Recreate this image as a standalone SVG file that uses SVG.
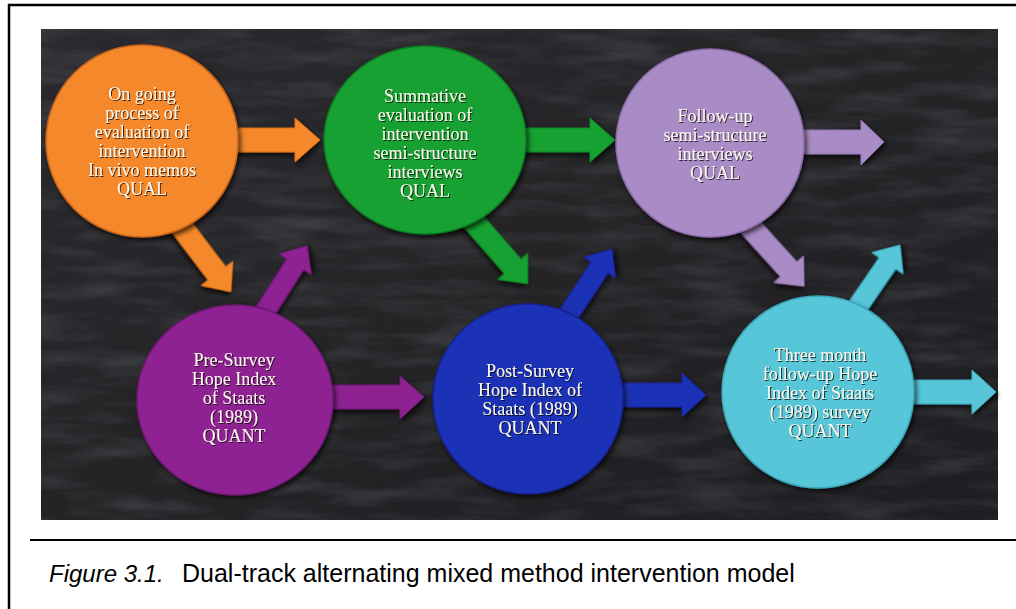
<svg xmlns="http://www.w3.org/2000/svg" width="1016" height="609" viewBox="0 0 1016 609">
<style>
.frame{stroke:#000;stroke-width:2.5;fill:none}
.node text{font-family:"Liberation Serif","Times New Roman",serif;font-size:18px;fill:#fdf8ec;text-anchor:middle}
.cap{font-family:"Liberation Sans",Arial,sans-serif;font-size:25px;fill:#000}
.arr{filter:url(#sh)}
.circ{filter:url(#sh);stroke-width:1.5}
</style>
<defs>
<linearGradient id="bg" x1="0" y1="0" x2="1" y2="1">
<stop offset="0" stop-color="#2a2a2e"/>
<stop offset="0.5" stop-color="#242427"/>
<stop offset="1" stop-color="#1e1e22"/>
</linearGradient>
<filter id="chalk" x="0" y="0" width="1" height="1">
<feTurbulence type="fractalNoise" baseFrequency="0.012 0.06" numOctaves="4" seed="7"/>
<feColorMatrix type="matrix" values="0 0 0 0 0.85  0 0 0 0 0.87  0 0 0 0 0.95  0.24 0 0 0 -0.1"/>
</filter>
<filter id="sh" x="-20%" y="-20%" width="140%" height="140%">
<feDropShadow dx="2" dy="3" stdDeviation="2.5" flood-color="#000" flood-opacity="0.7"/>
</filter>
<filter id="tsh" x="-10%" y="-10%" width="120%" height="130%">
<feDropShadow dx="1" dy="1" stdDeviation="0.5" flood-color="#000" flood-opacity="0.75"/>
</filter>
</defs>

<!-- page frame -->
<line class="frame" x1="8" y1="5" x2="1016" y2="5"/>
<line class="frame" x1="9" y1="4" x2="9" y2="609"/>

<!-- chalkboard panel -->
<rect x="41" y="29" width="957" height="491" fill="url(#bg)"/>
<rect x="41" y="29" width="957" height="491" filter="url(#chalk)"/>

<!-- connectors -->
<g id="connectors">
<path class="arr" fill="#f5882c" stroke="#d9701a" d="M220,128 L295,128 L295,118 L320,140 L295,162 L295,152 L220,152 Z"/>
<path class="arr" fill="#18a131" stroke="#0f8524" d="M515,128 L590,128 L590,118 L615,140 L590,162 L590,152 L515,152 Z"/>
<path class="arr" fill="#a98bc6" stroke="#8f72ad" d="M790,130 L861,130 L861,120 L884,142 L861,165 L861,154 L790,154 Z"/>
<path class="arr" fill="#8e2393" stroke="#731a78" d="M320,385 L400,385 L400,376 L424,397 L400,419 L400,409 L320,409 Z"/>
<path class="arr" fill="#1f31b6" stroke="#16249a" d="M610,383 L682,383 L682,373 L706,395 L682,417 L682,407 L610,407 Z"/>
<path class="arr" fill="#57c6d8" stroke="#3fadc0" d="M905,380 L972,380 L972,370 L996,392 L972,414 L972,404 L905,404 Z"/>
<path class="arr" fill="#f5882c" stroke="#d9701a" transform="translate(165,205) rotate(52.8)" d="M0,-11 L86,-11 L86,-20 L109,0 L86,20 L86,11 L0,11 Z"/>
<path class="arr" fill="#18a131" stroke="#0f8524" transform="translate(455,200) rotate(49)" d="M0,-11 L88,-11 L88,-20 L111,0 L88,20 L88,11 L0,11 Z"/>
<path class="arr" fill="#a98bc6" stroke="#8f72ad" transform="translate(735,210) rotate(47.8)" d="M0,-11 L80,-11 L80,-20 L103,0 L80,20 L80,11 L0,11 Z"/>
<path class="arr" fill="#8e2393" stroke="#731a78" transform="translate(250,335) rotate(-57.4)" d="M0,-10 L84,-10 L84,-19 L106,0 L84,19 L84,10 L0,10 Z"/>
<path class="arr" fill="#1f31b6" stroke="#16249a" transform="translate(555,335) rotate(-56.5)" d="M0,-10 L81,-10 L81,-19 L103,0 L81,19 L81,10 L0,10 Z"/>
<path class="arr" fill="#57c6d8" stroke="#3fadc0" transform="translate(845,325) rotate(-55.5)" d="M0,-10 L75,-10 L75,-19 L97,0 L75,19 L75,10 L0,10 Z"/>
</g>

<!-- nodes -->
<g id="node-ongoing" class="node">
<circle class="circ" cx="142" cy="141" r="96" fill="#f5882c" stroke="#c8631a"/>
<g filter="url(#tsh)">
<text x="142" y="100">On going</text>
<text x="142" y="119">process of</text>
<text x="142" y="138">evaluation of</text>
<text x="142" y="157">intervention</text>
<text x="142" y="176">In vivo memos</text>
<text x="142" y="195">QUAL</text>
</g>
</g>

<g id="node-summative" class="node">
<ellipse class="circ" cx="425" cy="140" rx="101" ry="94" fill="#18a131" stroke="#0d7a20"/>
<g filter="url(#tsh)">
<text x="425" y="102">Summative</text>
<text x="425" y="121">evaluation of</text>
<text x="425" y="140">intervention</text>
<text x="425" y="159">semi-structure</text>
<text x="425" y="178">interviews</text>
<text x="425" y="197">QUAL</text>
</g>
</g>

<g id="node-followup" class="node">
<circle class="circ" cx="710" cy="143" r="94" fill="#a98bc6" stroke="#8a6ca8"/>
<g filter="url(#tsh)">
<text x="715" y="122">Follow-up</text>
<text x="715" y="141">semi-structure</text>
<text x="715" y="160">interviews</text>
<text x="715" y="179">QUAL</text>
</g>
</g>

<g id="node-presurvey" class="node">
<ellipse class="circ" cx="235" cy="400" rx="98" ry="95" fill="#8e2393" stroke="#6d1a72"/>
<g filter="url(#tsh)">
<text x="234" y="366">Pre-Survey</text>
<text x="234" y="385">Hope Index</text>
<text x="234" y="404">of Staats</text>
<text x="234" y="423">(1989)</text>
<text x="234" y="442">QUANT</text>
</g>
</g>

<g id="node-postsurvey" class="node">
<circle class="circ" cx="528" cy="399" r="95" fill="#1f31b6" stroke="#15228f"/>
<g filter="url(#tsh)">
<text x="530" y="377">Post-Survey</text>
<text x="530" y="396">Hope Index of</text>
<text x="530" y="415">Staats (1989)</text>
<text x="530" y="434">QUANT</text>
</g>
</g>

<g id="node-threemonth" class="node">
<circle class="circ" cx="818" cy="392" r="96" fill="#57c6d8" stroke="#3aa6b8"/>
<g filter="url(#tsh)">
<text x="820" y="361">Three month</text>
<text x="820" y="380">follow-up Hope</text>
<text x="820" y="399">Index of Staats</text>
<text x="820" y="418">(1989) survey</text>
<text x="820" y="437">QUANT</text>
</g>
</g>

<!-- caption -->
<line class="frame" x1="30" y1="540" x2="1016" y2="540" style="stroke-width:2"/>
<text class="cap" x="49" y="582" style="font-size:24px;font-style:italic">Figure 3.1.</text>
<text class="cap" x="182" y="582">Dual-track alternating mixed method intervention model</text>
</svg>
